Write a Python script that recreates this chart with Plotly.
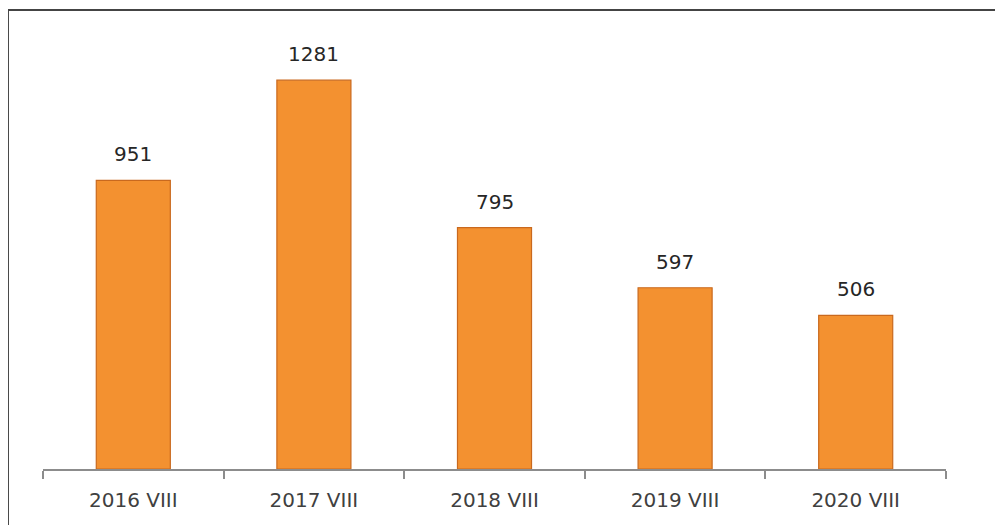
import plotly.graph_objects as go

# data
categories = ["2016 VIII", "2017 VIII", "2018 VIII", "2019 VIII", "2020 VIII"]
values = [951, 1281, 795, 597, 506]

fig = go.Figure()

fig.add_trace(go.Bar(
    x=categories, y=values,
    width=0.41,
    marker=dict(color="#F39130", line=dict(color="#C9691E", width=1.2)),
))

# value labels above the bars
for cat, val in zip(categories, values):
    fig.add_annotation(x=cat, y=val, text=str(val), showarrow=False,
                       yanchor="bottom", yshift=12,
                       font=dict(family="DejaVu Sans", size=20, color="#262626"))

# outer frame of the chart area
fig.add_shape(type="rect", xref="paper", yref="paper",
              x0=-0.0388, x1=1.2, y0=-0.3, y1=1.08,
              line=dict(color="#444444", width=2), fillcolor="rgba(0,0,0,0)")

fig.update_layout(
    width=1003, height=525,
    margin=dict(l=35, r=65, t=36, b=64),
    paper_bgcolor="white", plot_bgcolor="white",
    showlegend=False,
    font=dict(family="DejaVu Sans", color="#404040"),
)
fig.update_xaxes(showline=True, linecolor="#8c8c8c", linewidth=1.5,
                 ticks="outside", tickson="boundaries", ticklen=8, tickcolor="#8c8c8c", tickwidth=1.5,
                 ticklabelstandoff=12,
                 tickfont=dict(size=20, color="#404040"), showgrid=False)
fig.update_yaxes(range=[0, 1400], visible=False, showgrid=False)

fig.write_html("out.html")
